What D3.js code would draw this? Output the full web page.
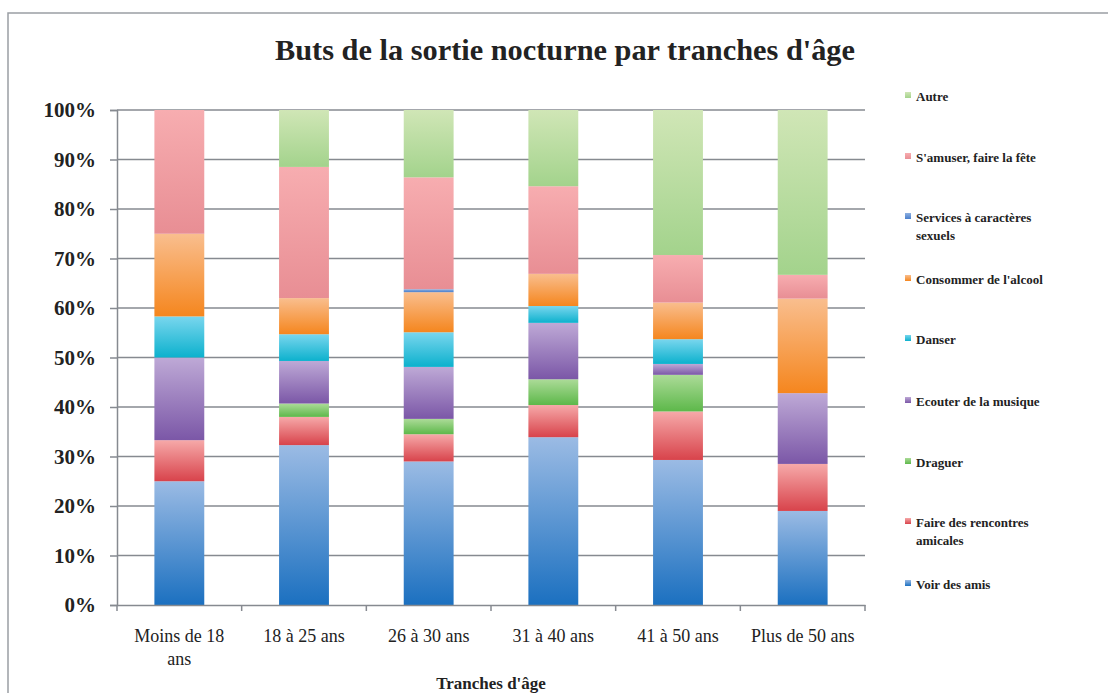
<!DOCTYPE html>
<html>
<head>
<meta charset="utf-8">
<script src="https://cdn.jsdelivr.net/npm/d3@7"></script>
<style>
  body { margin: 0; background: #fff; }
  svg text { font-family: "Liberation Serif", "DejaVu Serif", serif; fill: #222; }
</style>
</head>
<body>
<svg id="chart"></svg>
<script>
// *********************************************
// DATA
// *********************************************
var categories = ["Moins de 18 ans", "18 à 25 ans", "26 à 30 ans", "31 à 40 ans", "41 à 50 ans", "Plus de 50 ans"];
var series = ["Voir des amis", "Faire des rencontres amicales", "Draguer", "Ecouter de la musique",
              "Danser", "Consommer de l'alcool", "Services à caractères sexuels", "S'amuser, faire la fête", "Autre"];

// percent per category, one array per series (same order as categories)
var voirAmis    = [25.0, 32.3, 29.0, 33.9, 29.3, 19.0];
var rencontres  = [8.3, 5.7, 5.5, 6.5, 9.8, 9.5];
var draguer     = [0, 2.7, 3.1, 5.2, 7.4, 0];
var musique     = [16.7, 8.6, 10.5, 11.4, 2.2, 14.3];
var danser      = [8.3, 5.4, 7.0, 3.4, 5.0, 0];
var alcool      = [16.7, 7.3, 8.1, 6.5, 7.4, 19.1];
var services    = [0, 0, 0.6, 0, 0, 0];
var amuser      = [25.0, 26.5, 22.6, 17.7, 9.6, 4.8];
var autre       = [0, 11.5, 13.6, 15.4, 29.3, 33.3];
var yTicks = [0, 10, 20, 30, 40, 50, 60, 70, 80, 90, 100];

// gradient colours (top, bottom)
var colTop = ["#9bbbe4", "#f6a9a9", "#acdb98", "#bea9d6", "#79d6ee", "#f9be8e", "#8fb0e0", "#f7adb0", "#d0e6b6"];
var colBot = ["#1b70c0", "#d8434b", "#5db84a", "#7b57a7", "#0cb1cd", "#f5861e", "#4a7fcc", "#e88e94", "#a3d38c"];

// *********************************************
// SETUP
// *********************************************
var width = 1108, height = 693;
var margin = {left: 117, right: 243, top: 110, bottom: 88};

var svg = d3.select("#chart").attr("width", width).attr("height", height);

// frame
svg.append("rect")
    .attr("x", 8).attr("y", 13).attr("width", width + 10).attr("height", height + 10)
    .attr("fill", "none").attr("stroke", "#9a9ea4").attr("stroke-width", 1.5);

var defs = svg.append("defs");
series.forEach(function(s, i) {
  var gr = defs.append("linearGradient").attr("id", "grad" + i)
      .attr("x1", 0).attr("y1", 0).attr("x2", 0).attr("y2", 1);
  gr.append("stop").attr("offset", "0%").attr("stop-color", colTop[i]);
  gr.append("stop").attr("offset", "100%").attr("stop-color", colBot[i]);
});

var x = d3.scaleBand().domain(categories)
    .range([margin.left, width - margin.right]).paddingInner(0.6).paddingOuter(0.3);
var y = d3.scaleLinear().domain([0, 100]).range([height - margin.bottom, margin.top]);

// gridlines
svg.append("g").selectAll("line").data(yTicks.slice(1)).enter().append("line")
    .attr("x1", margin.left).attr("x2", width - margin.right)
    .attr("y1", d => y(d)).attr("y2", d => y(d))
    .attr("stroke", "#868a90").attr("stroke-width", 1.5);

// stacked bars
var rows = categories.map(function(c, j) {
  var r = {cat: c};
  [voirAmis, rencontres, draguer, musique, danser, alcool, services, amuser, autre]
    .forEach(function(arr, i) { r[series[i]] = arr[j]; });
  return r;
});
var stack = d3.stack().keys(series).offset(d3.stackOffsetExpand);
var layers = stack(rows);

svg.append("g").selectAll("g").data(layers).enter().append("g")
    .attr("fill", (d, i) => "url(#grad" + i + ")")
  .selectAll("rect").data(d => d).enter().append("rect")
    .attr("x", d => x(d.data.cat))
    .attr("width", x.bandwidth())
    .attr("y", d => y(d[1] * 100))
    .attr("height", d => Math.max(0, y(d[0] * 100) - y(d[1] * 100)));

// y axis
var yAxis = svg.append("g").attr("transform", "translate(" + margin.left + ",0)")
    .call(d3.axisLeft(y).tickValues(yTicks).tickFormat(d => d + "%").tickSizeOuter(0).tickSize(7).tickPadding(14));
yAxis.selectAll("line, path").attr("stroke", "#868a90").attr("stroke-width", 1.5);
yAxis.selectAll("text").attr("font-size", 21).attr("font-weight", "bold")
    .attr("font-family", "Liberation Serif").attr("fill", "#2a2e33");

// x axis
var xAxis = svg.append("g").attr("transform", "translate(0," + y(0) + ")")
    .call(d3.axisBottom(x).tickSize(0).tickFormat(""));
xAxis.select("path").attr("stroke", "#868a90").attr("stroke-width", 1.5);
var bounds = d3.range(categories.length + 1).map(i => margin.left + i * (width - margin.left - margin.right) / categories.length);
xAxis.selectAll(".sep").data(bounds).enter().append("line")
    .attr("x1", d => d).attr("x2", d => d).attr("y1", 0).attr("y2", 6)
    .attr("stroke", "#868a90").attr("stroke-width", 1.5);

var xLabels = [["Moins de 18", "ans"], ["18 à 25 ans"], ["26 à 30 ans"], ["31 à 40 ans"], ["41 à 50 ans"], ["Plus de 50 ans"]];
svg.append("g").selectAll("text").data(categories).enter().append("text")
    .attr("x", d => x(d) + x.bandwidth() / 2)
    .attr("y", 642)
    .attr("text-anchor", "middle").attr("font-size", 18).attr("fill", "#2a2e33")
    .each(function(d, i) {
      var t = d3.select(this);
      xLabels[i].forEach(function(line, k) {
        t.append("tspan").attr("x", x(d) + x.bandwidth() / 2).attr("dy", k ? 23 : 0).text(line);
      });
    });

// titles
svg.append("text").attr("x", 565).attr("y", 60).attr("text-anchor", "middle")
    .attr("font-size", 29).attr("font-weight", "bold").attr("fill", "#15191e")
    .attr("textLength", 580).attr("lengthAdjust", "spacingAndGlyphs")
    .text("Buts de la sortie nocturne par tranches d'âge");
svg.append("text").attr("x", 491).attr("y", 689).attr("text-anchor", "middle")
    .attr("font-size", 17).attr("font-weight", "bold").attr("fill", "#15191e")
    .text("Tranches d'âge");

// legend
var legendY = [97, 158, 218, 280, 340, 402, 463, 523, 585];
var legendLines = [["Autre"], ["S'amuser, faire la fête"], ["Services à caractères", "sexuels"], ["Consommer de l'alcool"],
                   ["Danser"], ["Ecouter de la musique"], ["Draguer"], ["Faire des rencontres", "amicales"], ["Voir des amis"]];
var legend = svg.append("g").selectAll("g").data(series.slice().reverse()).enter().append("g")
    .attr("transform", (d, i) => "translate(905," + legendY[i] + ")");
legend.append("rect").attr("x", 0).attr("y", -5).attr("width", 6).attr("height", 6)
    .attr("fill", d => "url(#grad" + series.indexOf(d) + ")");
legend.append("text").attr("x", 11).attr("y", 4).attr("font-size", 13).attr("font-weight", "bold").attr("fill", "#33373c")
    .each(function(d, i) {
      var t = d3.select(this);
      legendLines[i].forEach(function(line, k) {
        t.append("tspan").attr("x", 11).attr("dy", k ? 18 : 0).text(line);
      });
    });
</script>
</body>
</html>
